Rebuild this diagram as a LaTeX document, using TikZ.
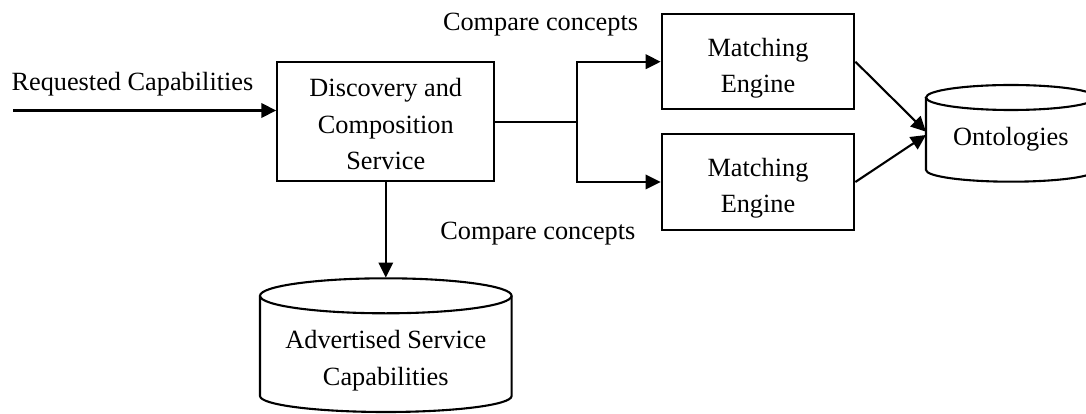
\documentclass[tikz,border=0pt]{standalone}
\usepackage{fontspec}
\setmainfont{Liberation Serif}
\usetikzlibrary{arrows.meta}
\begin{document}
\begin{tikzpicture}[x=1pt,y=-1pt,
  line width=2.1pt,
  txt/.style={font=\fontsize{26.3}{36.6}\selectfont, inner sep=0pt, align=center},
  procbox/.style={txt, draw, rectangle},
  flow/.style={-{Triangle[length=15pt,width=14.5pt]}},
]
\fill[white] (0,0) rectangle (1086,414);
\useasboundingbox (0,0) rectangle (1086,414);

% processing boxes (the rule lifts the text block to sit low in the box)
\node[procbox, minimum width=217pt, minimum height=118.7pt] (disc) at (385.8,121.65)
  {\rule{0pt}{23.4pt}Discovery and\\Composition\\Service};
\node[procbox, minimum width=192.6pt, minimum height=95.3pt] (me1) at (758,61.7)
  {\rule{0pt}{31pt}Matching\\Engine};
\node[procbox, minimum width=192.6pt, minimum height=96pt] (me2) at (758,182)
  {\rule{0pt}{31pt}Matching\\Engine};

% data stores drawn as cylinders
\draw (260,295.8) -- (260,396) arc[start angle=180,end angle=360,x radius=125.8pt,y radius=16pt] -- (511.6,295.8);
\draw (385.8,295.8) ellipse[x radius=125.8pt,y radius=17.5pt];
\draw (926,97.5) -- (926,170) arc[start angle=180,end angle=360,x radius=85pt,y radius=11.7pt] -- (1096,97.5);
\draw (1011,97.5) ellipse[x radius=85pt,y radius=12.5pt];

% texts
\node[txt] (adv) at (385.8,360.75) {Advertised Service\\Capabilities};
\node[txt, anchor=base] (onto) at (1010.8,145.5) {Ontologies};
\node[txt, anchor=base west] (req) at (10.5,90.7) {Requested Capabilities};
\node[txt, anchor=base west] (cmp1) at (442,30.7) {Compare concepts};
\node[txt, anchor=base west] (cmp2) at (439.3,239.5) {Compare concepts};

% connector end points
\coordinate (reqstart) at (13,110.5);
\coordinate (branch) at (577.3,121.65);
\coordinate (advtop) at (385.8,277.5);
\coordinate (ontoin1) at (926,131.7);
\coordinate (ontoin2) at (926,135);

% connectors
\draw[flow] (reqstart) -- (reqstart -| disc.west);
\draw (disc.east) -- (branch);
\draw[flow] (branch) |- (me1.west);
\draw[flow] (branch) |- (me2.west);
\draw[flow] (disc.south) -- (advtop);
\draw[flow] (me1.east) -- (ontoin1);
\draw[flow] (me2.east) -- (ontoin2);
\end{tikzpicture}
\end{document}
